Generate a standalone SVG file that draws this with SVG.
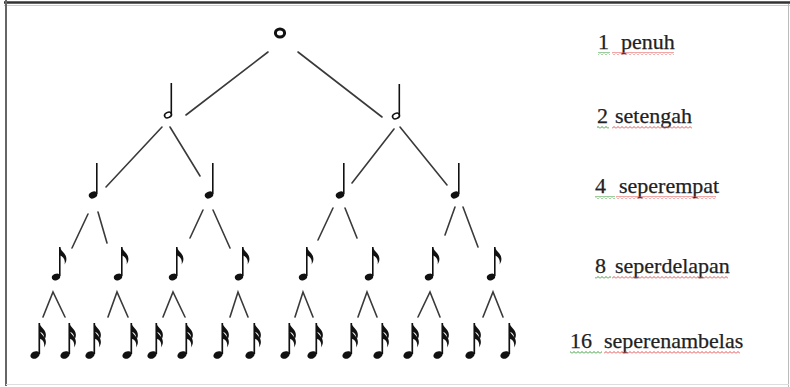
<svg xmlns="http://www.w3.org/2000/svg" xmlns:xlink="http://www.w3.org/1999/xlink" width="790" height="387" viewBox="0 0 790 387">
<style>
.ln{stroke:#3a3a3a;stroke-width:1.6;fill:none;stroke-linecap:round}
.lbl{font-family:"Liberation Serif","Times New Roman",serif;font-size:22px;fill:#222;stroke:#222;stroke-width:0.25}
</style>
<defs>
<pattern id="sqr" width="4" height="3" patternUnits="userSpaceOnUse"><path d="M0,2.5 L2,0.5 L4,2.5" stroke="#e05050" fill="none" stroke-width="1"/></pattern>
<pattern id="sqg" width="4" height="3" patternUnits="userSpaceOnUse"><path d="M0,2.5 L2,0.5 L4,2.5" stroke="#3c9a3c" fill="none" stroke-width="1"/></pattern>
<path id="flag" d="M0,0 C1,4 6,6 6.5,11 C7,14 5.5,16 4.8,17.5 C5.8,12 3,9.5 0,8.5 Z" fill="#111"/>
<g id="whole"><ellipse cx="0" cy="0" rx="4.6" ry="4" fill="none" stroke="#111" stroke-width="3"/></g>
<g id="half"><ellipse cx="0" cy="0" rx="3.6" ry="2.6" transform="rotate(-25)" fill="#fff" stroke="#111" stroke-width="1.6"/><line x1="3.3" y1="-1" x2="3.3" y2="-32" stroke="#111" stroke-width="1.6"/></g>
<g id="quarter"><ellipse cx="0" cy="0" rx="4.4" ry="3.2" transform="rotate(-25)" fill="#111"/><line x1="3.8" y1="-1" x2="3.8" y2="-32" stroke="#111" stroke-width="1.6"/></g>
<g id="eighth"><ellipse cx="0" cy="0" rx="4.3" ry="3.2" transform="rotate(-25)" fill="#111"/><line x1="3.8" y1="-1" x2="3.8" y2="-30" stroke="#111" stroke-width="1.6"/><use href="#flag" xlink:href="#flag" x="3.8" y="-30"/></g>
<g id="sixteenth"><ellipse cx="0" cy="0" rx="4.8" ry="3.6" transform="rotate(-25)" fill="#111"/><line x1="4.3" y1="-1" x2="4.3" y2="-32" stroke="#111" stroke-width="1.7"/><use href="#flag" xlink:href="#flag" x="4.3" y="-32"/><use href="#flag" xlink:href="#flag" x="4.3" y="-25"/></g>
</defs>
<rect x="0" y="0" width="790" height="387" fill="#fff"/>
<g id="frame">
<line x1="4" y1="2.5" x2="790" y2="2.5" stroke="#333" stroke-width="2.5"/>
<line x1="4" y1="5.5" x2="790" y2="5.5" stroke="#ccc" stroke-width="1"/>
<line x1="6" y1="0" x2="6" y2="386" stroke="#666" stroke-width="2"/>
<line x1="788.5" y1="4" x2="788.5" y2="387" stroke="#bbb" stroke-width="1"/>
<line x1="6" y1="384.5" x2="789" y2="384.5" stroke="#ddd" stroke-width="1"/>
</g>
<g id="connectors">
<line class="ln" x1="268" y1="52" x2="186" y2="115"/>
<line class="ln" x1="298" y1="52" x2="382" y2="117"/>
<line class="ln" x1="162" y1="127" x2="106" y2="187"/>
<line class="ln" x1="170" y1="127" x2="200" y2="176"/>
<line class="ln" x1="394" y1="129" x2="352" y2="183"/>
<line class="ln" x1="400" y1="127" x2="447" y2="185"/>
<line class="ln" x1="88" y1="214" x2="72" y2="248"/>
<line class="ln" x1="98" y1="212" x2="107" y2="243"/>
<line class="ln" x1="203" y1="210" x2="190" y2="238"/>
<line class="ln" x1="213" y1="210" x2="230" y2="248"/>
<line class="ln" x1="333" y1="208" x2="318" y2="240"/>
<line class="ln" x1="345" y1="208" x2="357" y2="238"/>
<line class="ln" x1="455" y1="207" x2="445" y2="235"/>
<line class="ln" x1="463" y1="207" x2="478" y2="247"/>
<polyline class="ln" points="43,317 53,292 65,317"/>
<polyline class="ln" points="108,317 117,292 128,317"/>
<polyline class="ln" points="163,317 173,292 185,317"/>
<polyline class="ln" points="230,317 238,292 248,317"/>
<polyline class="ln" points="295,317 303,292 313,317"/>
<polyline class="ln" points="358,317 367,292 377,317"/>
<polyline class="ln" points="418,317 430,292 440,317"/>
<polyline class="ln" points="483,317 493,292 503,317"/>
</g>
<g id="n-whole"><use href="#whole" xlink:href="#whole" x="280" y="33"/></g>
<g id="n-half-1"><use href="#half" xlink:href="#half" x="168" y="115"/></g>
<g id="n-half-2"><use href="#half" xlink:href="#half" x="396" y="116"/></g>
<g id="n-q-1"><use href="#quarter" xlink:href="#quarter" x="93" y="195"/></g>
<g id="n-q-2"><use href="#quarter" xlink:href="#quarter" x="209" y="195"/></g>
<g id="n-q-3"><use href="#quarter" xlink:href="#quarter" x="340" y="195"/></g>
<g id="n-q-4"><use href="#quarter" xlink:href="#quarter" x="455" y="195"/></g>
<g id="n-e-1"><use href="#eighth" xlink:href="#eighth" x="56" y="277"/></g>
<g id="n-e-2"><use href="#eighth" xlink:href="#eighth" x="118" y="277"/></g>
<g id="n-e-3"><use href="#eighth" xlink:href="#eighth" x="173" y="277"/></g>
<g id="n-e-4"><use href="#eighth" xlink:href="#eighth" x="239" y="277"/></g>
<g id="n-e-5"><use href="#eighth" xlink:href="#eighth" x="303" y="277"/></g>
<g id="n-e-6"><use href="#eighth" xlink:href="#eighth" x="369" y="277"/></g>
<g id="n-e-7"><use href="#eighth" xlink:href="#eighth" x="429" y="277"/></g>
<g id="n-e-8"><use href="#eighth" xlink:href="#eighth" x="491" y="277"/></g>
<g id="n-s-1"><use href="#sixteenth" xlink:href="#sixteenth" x="35" y="355"/></g>
<g id="n-s-2"><use href="#sixteenth" xlink:href="#sixteenth" x="65" y="355"/></g>
<g id="n-s-3"><use href="#sixteenth" xlink:href="#sixteenth" x="90" y="355"/></g>
<g id="n-s-4"><use href="#sixteenth" xlink:href="#sixteenth" x="127" y="355"/></g>
<g id="n-s-5"><use href="#sixteenth" xlink:href="#sixteenth" x="152" y="355"/></g>
<g id="n-s-6"><use href="#sixteenth" xlink:href="#sixteenth" x="182" y="355"/></g>
<g id="n-s-7"><use href="#sixteenth" xlink:href="#sixteenth" x="218" y="355"/></g>
<g id="n-s-8"><use href="#sixteenth" xlink:href="#sixteenth" x="250" y="355"/></g>
<g id="n-s-9"><use href="#sixteenth" xlink:href="#sixteenth" x="285" y="355"/></g>
<g id="n-s-10"><use href="#sixteenth" xlink:href="#sixteenth" x="312" y="355"/></g>
<g id="n-s-11"><use href="#sixteenth" xlink:href="#sixteenth" x="347" y="355"/></g>
<g id="n-s-12"><use href="#sixteenth" xlink:href="#sixteenth" x="378" y="355"/></g>
<g id="n-s-13"><use href="#sixteenth" xlink:href="#sixteenth" x="408" y="355"/></g>
<g id="n-s-14"><use href="#sixteenth" xlink:href="#sixteenth" x="438" y="355"/></g>
<g id="n-s-15"><use href="#sixteenth" xlink:href="#sixteenth" x="470" y="355"/></g>
<g id="n-s-16"><use href="#sixteenth" xlink:href="#sixteenth" x="505" y="355"/></g>
<g id="labels">
<text class="lbl" y="49"><tspan x="598">1</tspan><tspan x="621">penuh</tspan></text>
<text class="lbl" y="123"><tspan x="597">2</tspan><tspan x="615">setengah</tspan></text>
<text class="lbl" y="193"><tspan x="595">4</tspan><tspan x="619">seperempat</tspan></text>
<text class="lbl" y="273"><tspan x="595">8</tspan><tspan x="615">seperdelapan</tspan></text>
<text class="lbl" y="348"><tspan x="570">16</tspan><tspan x="604">seperenambelas</tspan></text>
<rect x="598" y="52" width="12" height="3" fill="url(#sqg)"/>
<rect x="612" y="52" width="62" height="3" fill="url(#sqr)"/>
<rect x="597" y="126" width="12" height="3" fill="url(#sqg)"/>
<rect x="612" y="126" width="80" height="3" fill="url(#sqr)"/>
<rect x="595" y="196" width="20" height="3" fill="url(#sqg)"/>
<rect x="616" y="196" width="100" height="3" fill="url(#sqr)"/>
<rect x="595" y="276" width="16" height="3" fill="url(#sqg)"/>
<rect x="612" y="276" width="116" height="3" fill="url(#sqr)"/>
<rect x="570" y="351" width="32" height="3" fill="url(#sqg)"/>
<rect x="604" y="351" width="136" height="3" fill="url(#sqr)"/>
</g>
</svg>
